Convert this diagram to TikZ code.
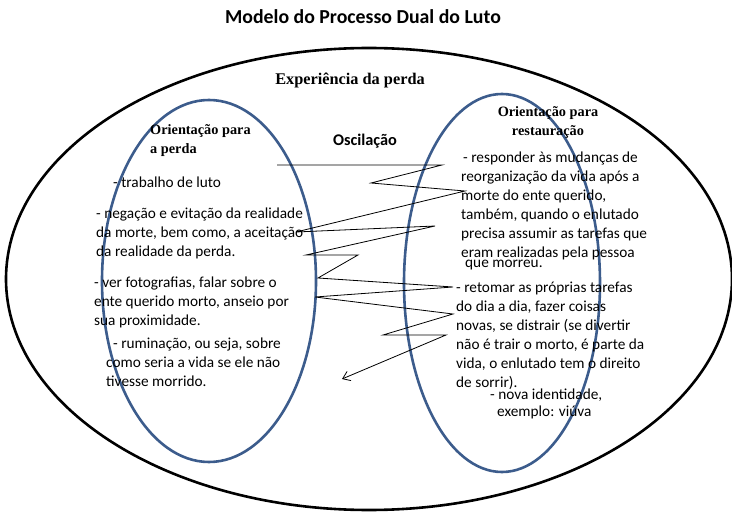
\documentclass[tikz,border=0pt]{standalone}
\usepackage{fontspec}
\setmainfont{Carlito}
\newfontfamily\serifb{Liberation Serif}
\usetikzlibrary{arrows.meta,shapes.geometric}
\definecolor{ringblue}{RGB}{60,92,140}
\tikzset{
  ring/.style={draw=ringblue,line width=2.6pt},
  outer/.style={draw=black,line width=2.6pt},
  body/.style={inner sep=0pt,align=left,anchor=north west,font=\fontsize{15.3}{19}\selectfont},
  head/.style={inner sep=0pt,font=\serifb\bfseries\fontsize{14.3}{19}\selectfont},
}
\begin{document}
\begin{tikzpicture}[x=1pt,y=-1pt]
\useasboundingbox (0,0) rectangle (732,532);
\node[outer,ellipse,minimum width=726,minimum height=462,inner sep=0] (outer) at (369,279) {};
\node[ring,ellipse,minimum width=214,minimum height=362,inner sep=0] (left) at (209,281) {};
\node[ring,ellipse,minimum width=196,minimum height=378,inner sep=0] (right) at (502,283) {};
\node[inner sep=0,font=\bfseries\fontsize{19.8}{22}\selectfont] (title) at (363,17) {Modelo do Processo Dual do Luto};
\node[head,font=\serifb\bfseries\fontsize{16.3}{19}\selectfont] (exp) at (350,80) {Experiência da perda};
\node[inner sep=0,font=\bfseries\fontsize{16.3}{19}\selectfont] (osc) at (365,141) {Oscilação};
\node[head,align=left,anchor=north west] (hl) at (150,124) {Orientação para\\a perda};
\node[head,align=center,anchor=north] (hr) at (548,106) {Orientação para\\restauração};
\node[body] (l1) at (113,177) {- trabalho de luto};
\node[body] (l2) at (96,208) {- negação e evitação da realidade\\da morte, bem como, a aceitação\\da realidade da perda.};
\node[body] (l3) at (94,277) {- ver fotografias, falar sobre o\\ente querido morto, anseio por\\sua proximidade.};
\node[body] (l4) at (113,338) {- ruminação, ou seja, sobre};
\node[body] (l4b) at (106,357) {como seria a vida se ele não\\tivesse morrido.};
\node[body] (r1) at (463,152) {- responder às mudanças de};
\node[body] (r1b) at (461,171) {reorganização da vida após a\\morte do ente querido,\\também, quando o enlutado\\precisa assumir as tarefas que\\eram realizadas pela pessoa};
\node[body] (r1c) at (465,260) {que morreu.};
\node[body] (r2) at (456,282) {- retomar as próprias tarefas\\do dia a dia, fazer coisas\\novas, se distrair (se divertir\\não é trair o morto, é parte da\\vida, o enlutado tem o direito\\de sorrir).};
\node[body] (r3) at (490,389) {- nova identidade,};
\node[body] (r3b) at (497,406) {exemplo: viúva};
\coordinate (z0) at (277,165);
\coordinate (z14) at (342,379);
\draw[line width=0.8pt,-{Straight Barb[length=7pt,width=10pt]}] (z0) -- (442,165) -- (371,183) -- (465,191) -- (296,232) -- (435,226) -- (306,255) -- (358,255) -- (318,278) -- (453,287) -- (315,297) -- (453,314) -- (383,335) -- (446,335) -- (z14);
\end{tikzpicture}
\end{document}
